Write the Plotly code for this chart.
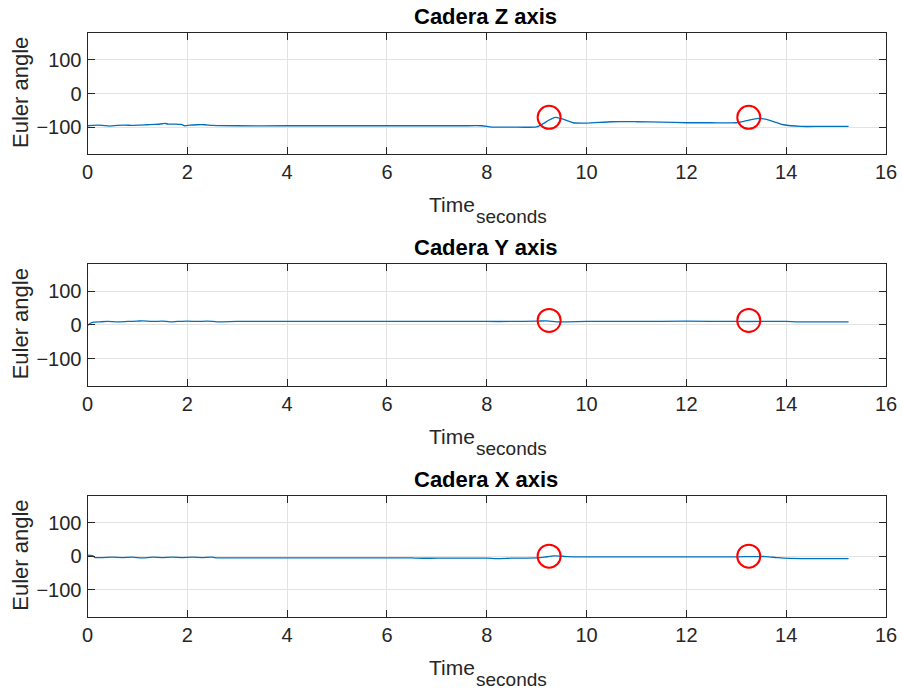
import plotly.graph_objects as go

# ---------------- data ----------------
t_z = [0, 0.1, 0.2, 0.3, 0.45, 0.6, 0.75, 0.9, 1.05, 1.2, 1.35, 1.5, 1.55, 1.62, 1.75,
       1.88, 1.95, 2.05, 2.2, 2.35, 2.5, 3.0, 4.0, 5.0, 6.0, 7.0, 7.5, 7.9, 8.1, 8.5,
       9.0, 9.15, 9.25, 9.37, 9.5, 9.73, 10.0, 10.5, 11.0, 11.5, 12.0, 12.5, 13.0, 13.2,
       13.44, 13.6, 13.8, 13.95, 14.3, 14.7, 15.25]
z_vals = [-96, -95, -94, -95, -97, -95, -94, -95, -94, -93, -92, -90, -89, -91, -91,
          -92, -96, -94, -93, -93, -95, -96, -96, -96, -96, -96, -96, -96, -100, -100,
          -99, -88, -79, -71, -75, -87, -88, -84, -84, -85, -87, -87, -87, -81,
          -74, -77, -86, -93, -98, -98, -98]

t_y = [0, 0.05, 0.12, 0.25, 0.4, 0.6, 0.8, 1.0, 1.1, 1.3, 1.5, 1.65, 1.8, 2.0, 2.2,
       2.4, 2.6, 3.0, 4.0, 5.0, 6.0, 7.0, 8.0, 8.5, 9.0, 9.2, 9.4, 9.6, 10.0, 11.0,
       12.0, 13.0, 13.5, 14.0, 14.2, 14.5, 15.0, 15.25]
y_vals = [-2, 4, 8, 9, 10, 9, 10, 11, 12, 10, 11, 9, 10, 11, 10,
          11, 9, 10, 10, 10, 10, 10, 10, 10, 11, 12, 9, 9, 10, 10,
          11, 10, 10, 10, 9, 9, 9, 9]

t_x = [0, 0.1, 0.15, 0.3, 0.5, 0.7, 0.9, 1.1, 1.3, 1.5, 1.7, 1.9, 2.1, 2.3, 2.5,
       2.6, 3.0, 4.0, 5.0, 6.0, 6.5, 6.6, 7.0, 7.5, 8.0, 8.2, 8.5, 9.0, 9.15, 9.35,
       9.6, 10.0, 11.0, 12.0, 13.0, 13.4, 13.6, 13.8, 13.95, 14.3, 14.7, 15.25]
x_vals = [3, 2, -4, -4, -3, -4, -3, -5, -3, -4, -3, -4, -3, -4, -3,
          -5, -5, -5, -5, -5, -5, -6, -6, -6, -6, -7, -6, -5, -3, 1,
          -1, -2, -2, -2, -2, -1, -1, -4, -6, -7, -7, -7]

circle_t = [9.25, 13.25]
circle_z = [-71, -71]
circle_y = [13, 13]
circle_x = [0, 0]

titles = ["Cadera Z axis", "Cadera Y axis", "Cadera X axis"]
x_ticks = [0, 2, 4, 6, 8, 10, 12, 14, 16]
y_ticks = [-100, 0, 100]
y_label = "Euler angle"
x_label_main = "Time"
x_label_sub = "seconds"

# ---------------- layout helpers ----------------
W, H = 902, 692
FONT = "Liberation Sans, Arial, Helvetica, sans-serif"
AX_COL = "#262626"
GRID_COL = "#e3e3e3"
LINE_COL = "#0072BD"

left_px, right_px = 87.5, 886
panels_px = [(33, 154), (264, 385.7), (495.7, 616.7)]  # (top, bottom)

def px_x(p):
    return p / W

def px_y(p):
    return 1 - p / H

fig = go.Figure()

series = [(t_z, z_vals, circle_z), (t_y, y_vals, circle_y), (t_x, x_vals, circle_x)]
annotations = []
for i, ((tt, vv, cy), (top, bot)) in enumerate(zip(series, panels_px)):
    sfx = "" if i == 0 else str(i + 1)
    xa, ya = "x" + sfx, "y" + sfx
    fig.add_trace(go.Scatter(x=tt, y=vv, mode="lines", xaxis=xa, yaxis=ya,
                             line=dict(color=LINE_COL, width=1.3, shape="spline", smoothing=0.6),
                             showlegend=False, hoverinfo="skip"))
    fig.add_trace(go.Scatter(x=circle_t, y=cy, mode="markers", xaxis=xa, yaxis=ya,
                             marker=dict(symbol="circle-open", size=23,
                                         line=dict(color="#ff0000", width=2), color="#ff0000"),
                             showlegend=False, hoverinfo="skip"))
    common = dict(showline=True, linecolor=AX_COL, linewidth=1, mirror="ticks",
                  ticks="inside", ticklen=7, tickwidth=1, tickcolor=AX_COL,
                  showgrid=True, gridcolor=GRID_COL, gridwidth=1, zeroline=False,
                  automargin=False,
                  tickfont=dict(family=FONT, size=20, color=AX_COL))
    fig.layout["xaxis" + sfx] = dict(domain=[px_x(left_px), px_x(right_px)], range=[0, 16],
                                     tickvals=x_ticks, anchor=ya, ticklabelstandoff=0,
                                     **common)
    fig.layout["yaxis" + sfx] = dict(domain=[px_y(bot), px_y(top)], range=[-180, 180],
                                     tickvals=y_ticks, anchor=xa, ticklabelstandoff=1,
                                     **common)
    mid_x = (left_px + right_px) / 2
    annotations.append(dict(text="<b>" + titles[i] + "</b>", x=px_x(mid_x - 1), y=px_y(top - 16),
                            xref="paper", yref="paper", xanchor="center", yanchor="middle",
                            showarrow=False, font=dict(family=FONT, size=22, color="#000000")))
    annotations.append(dict(text=y_label, x=px_x(20.5), y=px_y((top + bot) / 2 - 1),
                            xref="paper", yref="paper", xanchor="center", yanchor="middle",
                            textangle=-90, showarrow=False,
                            font=dict(family=FONT, size=22, color=AX_COL)))
    annotations.append(dict(text=x_label_main, x=px_x(477), y=px_y(bot + 50.4),
                            xref="paper", yref="paper", xanchor="right", yanchor="middle",
                            showarrow=False, font=dict(family=FONT, size=21, color=AX_COL)))
    annotations.append(dict(text=x_label_sub, x=px_x(474), y=px_y(bot + 62.5),
                            xref="paper", yref="paper", xanchor="left", yanchor="middle",
                            showarrow=False, font=dict(family=FONT, size=19, color=AX_COL)))

fig.update_layout(width=W, height=H, margin=dict(l=0, r=0, t=0, b=0, autoexpand=False),
                  paper_bgcolor="white", plot_bgcolor="white",
                  annotations=annotations, showlegend=False)

fig.write_html("out.html", config={"displayModeBar": False},
               post_script="document.documentElement.style.margin='0';"
                           "document.body.style.margin='0';"
                           "document.body.style.overflow='hidden';")
